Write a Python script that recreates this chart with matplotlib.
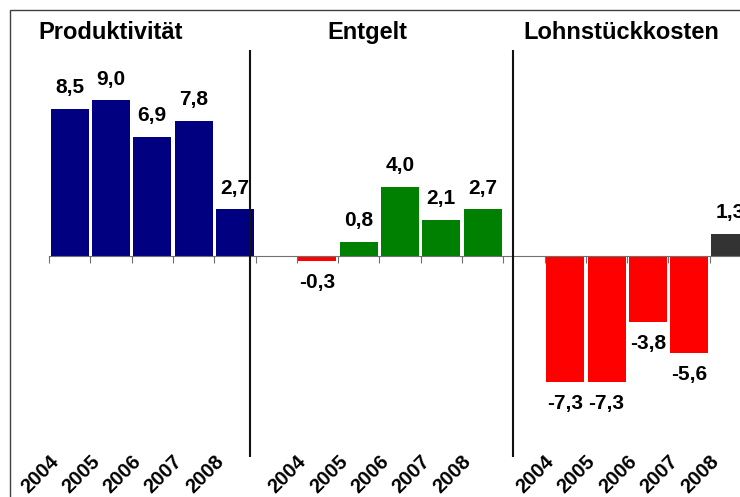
import matplotlib.pyplot as plt
from matplotlib.patches import Rectangle

# data
jahre = ["2004", "2005", "2006", "2007", "2008"]
titel = ["Produktivität", "Entgelt", "Lohnstückkosten"]
produktivitaet = [8.5, 9.0, 6.9, 7.8, 2.7]
entgelt = [-0.3, 0.8, 4.0, 2.1, 2.7]
lohnstueckkosten = [-7.3, -7.3, -3.8, -5.6, 1.3]

reihen = [produktivitaet, entgelt, lohnstueckkosten]
farben_pos = ["#000080", "#008000", "#333333"]
farben_neg = ["#FF0000", "#FF0000", "#FF0000"]

plt.rcParams['font.family'] = ['Liberation Sans', 'DejaVu Sans']
plt.rcParams['font.weight'] = 'bold'

fig = plt.figure(figsize=(7.4, 4.97), dpi=100)
ax = fig.add_axes([49 / 740, 40 / 497, 691 / 740, 407 / 497])

# chart border (only top and left edges fall inside the picture)
fig.add_artist(Rectangle((10 / 740, -0.2), 1.2, 1.2 - 10 / 497,
                         transform=fig.transFigure, fill=False,
                         edgecolor="#404040", lw=1.0))

slot = 6  # 5 bars + 1 empty slot per group
for g, werte in enumerate(reihen):
    xs = [g * slot + i for i in range(len(werte))]
    cols = [farben_pos[g] if v >= 0 else farben_neg[g] for v in werte]
    ax.bar(xs, werte, width=0.92, color=cols, zorder=2)
    for x, v in zip(xs, werte):
        txt = f"{v:.1f}".replace(".", ",")
        ax.annotate(txt, (x, v), xytext=(0, 8.5 if v >= 0 else -8.5),
                    textcoords="offset points", ha="center",
                    va="bottom" if v >= 0 else "top",
                    fontsize=15, fontweight="bold", zorder=4)
        j = jahre[x - g * slot]
        ax.text(x - 0.18, 0.012, j, transform=ax.get_xaxis_transform(),
                rotation=45, ha="right", va="top", fontsize=14.5,
                fontweight="bold")

# group titles
for x, t in zip([1.0, 7.22, 13.35], titel):
    ax.text(x, 1.027, t, transform=ax.get_xaxis_transform(), ha="center",
            va="baseline", fontsize=17, fontweight="bold")

# separators
for x in [4.36, 10.73]:
    ax.axvline(x, color="#111111", lw=1.5, zorder=5)

for s in ["top", "right", "left"]:
    ax.spines[s].set_visible(False)
ax.spines["bottom"].set_position(("data", 0))
ax.spines["bottom"].set_color("#707070")
ax.spines["bottom"].set_zorder(3)
ax.set_xticks([i - 0.5 for i in range(17)])
ax.tick_params(axis="x", direction="out", length=5, color="#707070",
               labelbottom=False)
ax.set_yticks([])
ax.patch.set_visible(False)

ax.set_xlim(-0.5, -0.5 + 691 / 41.3)
ax.set_ylim(-11.62, 11.91)

fig.savefig("out.png", dpi=100)
